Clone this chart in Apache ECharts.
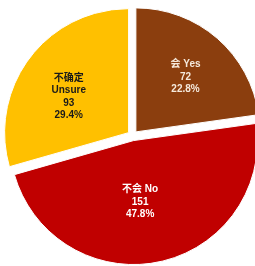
<!DOCTYPE html>
<html>
<head>
<meta charset="utf-8">
<script src="https://cdn.jsdelivr.net/npm/echarts@6/dist/echarts.min.js"></script>
<style>
  html, body { margin: 0; padding: 0; background: #fff; }
  #main { width: 255px; height: 266px; }
</style>
</head>
<body>
<div id="main"></div>
<script>
// 数据
var names = ['会 Yes', '不会 No', '不确定\nUnsure'];
var values = [72, 151, 93];
var colors = ['#8B3E0E', '#C00000', '#FFC000'];
var textColors = ['#F5E9DC', '#FFFFFF', '#1A1A1A'];

var chart = echarts.init(document.getElementById('main'));

var total = values.reduce(function (a, b) { return a + b; }, 0);

var data = names.map(function (n, i) {
  return {
    name: n,
    value: values[i],
    selected: true,
    itemStyle: { color: colors[i] },
    label: { color: textColors[i] }
  };
});

// 标签微调
var nudge = [[7, -6], [-7, -2], [-8, 3]];

var option = {
  backgroundColor: '#ffffff',
  animation: false,
  series: [{
    type: 'pie',
    center: ['52%', '51%'],
    radius: 124,
    startAngle: 90,
    clockwise: true,
    selectedMode: 'multiple',
    selectedOffset: 5,
    itemStyle: {
      borderColor: '#ffffff',
      borderWidth: 1
    },
    emphasis: { disabled: true },
    label: {
      show: true,
      position: 'inside',
      fontFamily: 'Liberation Sans, Arial, "Noto Sans CJK SC"',
      fontWeight: 'bold',
      fontSize: 10,
      lineHeight: 12.5,
      align: 'center',
      formatter: function (p) {
        return p.name + '\n' + p.value + '\n' + (p.value / total * 100).toFixed(1) + '%';
      }
    },
    labelLayout: function (p) {
      return { dx: nudge[p.dataIndex][0], dy: nudge[p.dataIndex][1] };
    },
    labelLine: { show: false },
    data: data
  }]
};

chart.setOption(option);
</script>
</body>
</html>
